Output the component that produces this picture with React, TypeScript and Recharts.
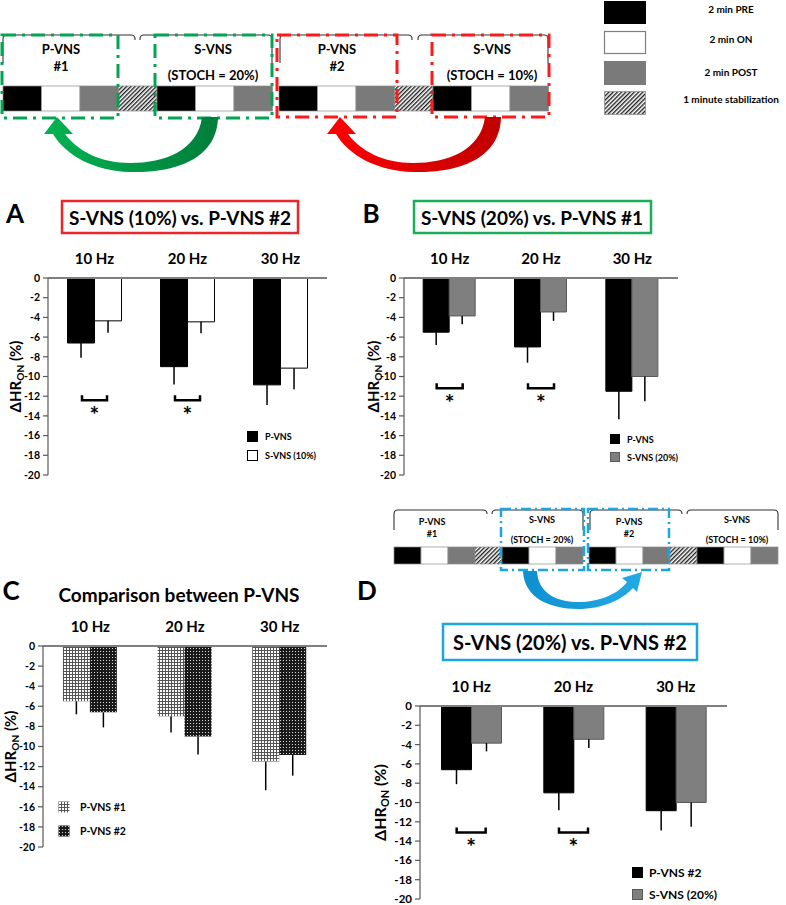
import React from 'react';
import { ComposedChart, Bar, Line, XAxis, YAxis, ErrorBar, Legend } from 'recharts';

const FONT = "Lato, 'Open Sans', sans-serif";

// ---------- data ----------
const freqs = ['10 Hz', '20 Hz', '30 Hz'];
const yTicks = [0, -2, -4, -6, -8, -10, -12, -14, -16, -18, -20];

const pvns1Mean = [-5.5, -7.0, -11.5];
const pvns1Err = [1.3, 1.6, 2.85];
const pvns2Mean = [-6.6, -9.0, -10.85];
const pvns2Err = [1.5, 1.8, 2.05];
const svns10Mean = [-4.35, -4.45, -9.15];
const svns10Err = [1.2, 1.15, 2.15];
const svns20Mean = [-3.85, -3.45, -10.0];
const svns20Err = [0.85, 0.9, 2.5];

const sigA = [-12.4, -12.4, null];
const sigB = [-11.2, -11.2, null];
const sigC = [null, null, null];
const sigD = [-13.1, -13.1, null];

function rows(a: number[], aErr: number[], b: number[], bErr: number[], sig: (number | null)[]) {
  return freqs.map((f, i) => ({
    freq: f,
    a: a[i],
    aErr: [aErr[i], 0],
    b: b[i],
    bErr: [bErr[i], 0],
    sig: sig[i],
  }));
}

const dataA = rows(pvns2Mean, pvns2Err, svns10Mean, svns10Err, sigA);
const dataB = rows(pvns1Mean, pvns1Err, svns20Mean, svns20Err, sigB);
const dataC = rows(pvns1Mean, pvns1Err, pvns2Mean, pvns2Err, sigC);
const dataD = rows(pvns2Mean, pvns2Err, svns20Mean, svns20Err, sigD);

type S = { name: string; fill: string; stroke: string };

// ---------- helpers ----------
const YLab = (props: any) => {
  const { viewBox, dx, fs } = props;
  if (!viewBox) return null;
  const x = viewBox.x + viewBox.width - dx;
  const y = viewBox.y + viewBox.height / 2;
  return (
    <text
      x={x}
      y={y}
      transform={`rotate(-90, ${x}, ${y})`}
      textAnchor="middle"
      dominantBaseline="central"
      fontFamily={FONT}
      fontWeight={700}
      fontSize={fs}
      fill="#000"
    >
      ΔHR
      <tspan dy={fs * 0.3} fontSize={fs * 0.68}>ON</tspan>
      <tspan dy={-fs * 0.3}> (%)</tspan>
    </text>
  );
};

const makeSig = (half: number) => (props: any) => {
  const { cx, cy, payload, index } = props;
  if (payload == null || payload.sig == null || cy == null || isNaN(cy)) return <g key={`s${index}`} />;
  return (
    <g key={`s${index}`}>
      <path d={`M${cx - half},${cy - 5} V${cy} H${cx + half} V${cy - 5}`} stroke="#000" strokeWidth={2.5} fill="none" />
      <text x={cx} y={cy + 23} textAnchor="middle" fontSize={23} fontWeight={700} fontFamily={FONT} fill="#000">*</text>
    </g>
  );
};

const legendContent = (items: S[], box: number, fs: number, step: number, textGap: number) => () => (
  <div style={{ position: 'relative' }}>
    {items.map((it, i) => (
      <div key={i} style={{ position: 'absolute', left: 0, top: i * step, display: 'flex', alignItems: 'center', height: box }}>
        <svg width={box} height={box} style={{ display: 'block' }}>
          <rect x={0.5} y={0.5} width={box - 1} height={box - 1} fill={it.fill} stroke={it.stroke} strokeWidth={1} />
        </svg>
        <span style={{ marginLeft: textGap, fontSize: fs, fontWeight: 700, fontFamily: FONT, color: '#000', whiteSpace: 'nowrap', lineHeight: 1 }}>
          {it.name}
        </span>
      </div>
    ))}
  </div>
);

function Panel(p: any) {
  const { left, top, width, height, margin, data, series, sigHalf, yLabDx, tickFs, catFs, yLabFs, leg } = p;
  return (
    <div style={{ position: 'absolute', left, top, width, height }}>
      <ComposedChart width={width} height={height} data={data} margin={margin} barGap={0} barCategoryGap="21%">
        <XAxis
          dataKey="freq"
          orientation="top"
          height={30}
          interval={0}
          tickLine={false}
          tickMargin={8}
          axisLine={{ stroke: '#7f7f7f', strokeWidth: 1.8 }}
          tick={{ fontSize: catFs, fontWeight: 700, fill: '#000', fontFamily: FONT }}
        />
        <YAxis
          type="number"
          domain={[-20, 0]}
          ticks={yTicks}
          interval={0}
          width={40}
          tickSize={5}
          tickMargin={3}
          axisLine={{ stroke: '#595959', strokeWidth: 1.2 }}
          tickLine={{ stroke: '#595959', strokeWidth: 1.2 }}
          tick={{ fontSize: tickFs, fontWeight: 700, fill: '#000', fontFamily: FONT }}
          label={<YLab dx={yLabDx} fs={yLabFs} />}
        />
        <Bar dataKey="a" name={series[0].name} fill={series[0].fill} stroke={series[0].stroke} strokeWidth={1} isAnimationActive={false}>
          <ErrorBar dataKey="aErr" width={0} stroke="#000" strokeWidth={1.5} direction="y" />
        </Bar>
        <Bar dataKey="b" name={series[1].name} fill={series[1].fill} stroke={series[1].stroke} strokeWidth={1} isAnimationActive={false}>
          <ErrorBar dataKey="bErr" width={0} stroke="#000" strokeWidth={1.5} direction="y" />
        </Bar>
        <Line
          dataKey="sig"
          stroke="none"
          legendType="none"
          dot={makeSig(sigHalf)}
          activeDot={false}
          isAnimationActive={false}
        />
        <Legend
          layout="vertical"
          align="center"
          verticalAlign="middle"
          content={legendContent(series, leg.box, leg.fs, leg.step, leg.gap)}
          wrapperStyle={{ position: 'absolute', left: leg.x, top: leg.y, width: 160, height: 60, margin: 0 }}
        />
      </ComposedChart>
    </div>
  );
}

// ---------- schematic pieces ----------
function Strip({ x0, y, w, h }: any) {
  const kinds = ['pre', 'on', 'post', 'stab', 'pre', 'on', 'post'];
  return (
    <g>
      {kinds.map((k, i) => (
        <rect
          key={i}
          x={x0 + i * w}
          y={y}
          width={w}
          height={h}
          fill={k === 'pre' ? '#000' : k === 'on' ? '#fff' : k === 'post' ? '#7a7a7a' : 'url(#hatch)'}
          stroke="#8c8c8c"
          strokeWidth={0.7}
        />
      ))}
    </g>
  );
}

function Brace({ x1, x2, y, dl, dr }: any) {
  return (
    <path
      d={`M${x1},${y + dl} L${x1},${y + 4} Q${x1},${y} ${x1 + 4},${y} L${x2 - 4},${y} Q${x2},${y} ${x2},${y + 4} L${x2},${y + dr}`}
      stroke="#333"
      strokeWidth={1.1}
      fill="none"
    />
  );
}

const T = (p: any) => (
  <text
    x={p.x}
    y={p.y}
    textAnchor={p.anchor || 'middle'}
    dominantBaseline="central"
    fontFamily={FONT}
    fontWeight={700}
    fontSize={p.fs}
    fill="#000"
  >
    {p.children}
  </text>
);

function Overlay() {
  const green = '#00a651';
  const red = '#ff1a1a';
  const blue = '#1ba6e0';
  const arrowPath =
    'M218,117 C217,163 168,173 130,172 C95,171 66,156 53,134 L44,134 L57,117 L73,134 L65,134 C78,151 100,163 130,163 C165,163 198,150 202,117 Z';
  return (
    <svg width={786} height={905} style={{ position: 'absolute', left: 0, top: 0 }}>
      <defs>
        <pattern id="hatch" width={3} height={3} patternUnits="userSpaceOnUse" patternTransform="rotate(45)">
          <rect width={3} height={3} fill="#fff" />
          <rect width={1.4} height={3} fill="#222" />
        </pattern>
        <pattern id="patLight" width={3} height={3} patternUnits="userSpaceOnUse">
          <rect width={3} height={3} fill="#fff" />
          <rect width={3} height={1} fill="#555" />
          <rect width={1} height={3} fill="#555" />
        </pattern>
        <pattern id="patDark" width={3} height={3} patternUnits="userSpaceOnUse">
          <rect width={3} height={3} fill="#1a1a1a" />
          <rect x={1} y={1} width={1} height={1} fill="#d8d8d8" />
        </pattern>
        <linearGradient id="gGreen" x1="0" x2="1" y1="0" y2="0">
          <stop offset="0" stopColor="#00b451" />
          <stop offset="1" stopColor="#007d3a" />
        </linearGradient>
        <linearGradient id="gRed" x1="0" x2="1" y1="0" y2="0">
          <stop offset="0" stopColor="#ff0000" />
          <stop offset="1" stopColor="#c00000" />
        </linearGradient>
        <linearGradient id="gBlue" x1="0" x2="1" y1="0" y2="0">
          <stop offset="0" stopColor="#0f8fd0" />
          <stop offset="1" stopColor="#22aae6" />
        </linearGradient>
      </defs>

      {/* top schematic */}
      <Brace x1={3} x2={135} y={35} dl={28} dr={5} />
      <Brace x1={140} x2={272} y={35} dl={5} dr={28} />
      <Brace x1={280} x2={412} y={35} dl={28} dr={5} />
      <Brace x1={418} x2={548} y={35} dl={5} dr={28} />
      <Strip x0={3} y={86} w={38.5} h={25} />
      <Strip x0={279} y={86} w={38.5} h={25} />
      <T x={61} y={49} fs={13}>P-VNS</T>
      <T x={61} y={66} fs={13}>#1</T>
      <T x={213} y={49} fs={13}>S-VNS</T>
      <T x={213} y={75} fs={13}>(STOCH = 20%)</T>
      <T x={337} y={49} fs={13}>P-VNS</T>
      <T x={337} y={66} fs={13}>#2</T>
      <T x={492} y={49} fs={13}>S-VNS</T>
      <T x={492} y={75} fs={13}>(STOCH = 10%)</T>
      <g fill="none" strokeWidth={3} strokeDasharray="14 6 3 6">
        <rect x={2} y={35} width={116} height={83} stroke={green} />
        <rect x={155} y={35} width={117} height={83} stroke={green} />
        <rect x={277} y={35} width={120} height={82} stroke={red} />
        <rect x={432} y={35} width={117} height={82} stroke={red} />
      </g>
      <path d={arrowPath} fill="url(#gGreen)" />
      <path d={arrowPath} fill="url(#gRed)" transform="translate(283,0)" />

      {/* top-right key */}
      <rect x={604} y={1} width={42} height={23} fill="#000" />
      <rect x={604.5} y={31.5} width={41} height={22} fill="#fff" stroke="#7f7f7f" strokeWidth={1.2} />
      <rect x={604} y={61} width={42} height={24} fill="#7a7a7a" />
      <rect x={604.5} y={91.5} width={41} height={23} fill="url(#hatch)" stroke="#9a9a9a" strokeWidth={1} />
      <T x={731} y={9} fs={10}>2 min PRE</T>
      <T x={731} y={39} fs={10}>2 min ON</T>
      <T x={731} y={72} fs={10}>2 min POST</T>
      <T x={731} y={99} fs={10}>1 minute stabilization</T>

      {/* panel letters and titles */}
      <T x={15} y={213} fs={26}>A</T>
      <T x={371} y={213} fs={26}>B</T>
      <T x={11} y={590} fs={26}>C</T>
      <T x={367} y={590} fs={26}>D</T>
      <rect x={62} y={201} width={236} height={32} fill="none" stroke="#e8262b" strokeWidth={2.5} />
      <T x={180} y={217} fs={19}>S-VNS (10%) vs. P-VNS #2</T>
      <rect x={414} y={201} width={237} height={32} fill="none" stroke="#1aae5a" strokeWidth={2.5} />
      <T x={532} y={217} fs={19}>S-VNS (20%) vs. P-VNS #1</T>
      <T x={179} y={594} fs={19}>Comparison between P-VNS</T>
      <rect x={443} y={624} width={254} height={36} fill="none" stroke={blue} strokeWidth={2.5} />
      <T x={570} y={642} fs={20}>S-VNS (20%) vs. P-VNS #2</T>

      {/* lower schematic */}
      <Brace x1={394} x2={487} y={510} dl={20} dr={4} />
      <Brace x1={492} x2={583} y={510} dl={4} dr={20} />
      <Brace x1={590} x2={682} y={510} dl={20} dr={4} />
      <Brace x1={687} x2={778} y={510} dl={4} dr={20} />
      <Strip x0={394} y={547} w={27} h={17} />
      <Strip x0={589} y={547} w={27} h={17} />
      <T x={432} y={521} fs={9}>P-VNS</T>
      <T x={432} y={533} fs={9}>#1</T>
      <T x={542} y={519} fs={9}>S-VNS</T>
      <T x={542} y={539} fs={9}>(STOCH = 20%)</T>
      <T x={629} y={521} fs={9}>P-VNS</T>
      <T x={629} y={533} fs={9}>#2</T>
      <T x={737} y={519} fs={9}>S-VNS</T>
      <T x={737} y={539} fs={9}>(STOCH = 10%)</T>
      <g fill="none" strokeWidth={2.5} strokeDasharray="10 4 2 4" stroke={blue}>
        <rect x={501} y={509} width={83} height={61} />
        <rect x={588} y={509} width={81} height={61} />
      </g>
      <path
        d="M523,571 C524,598 550,609 578,609 C602,609 622,600 633,588 L637,592 L642,572 L622,578 L627,582 C618,594 600,602 578,602 C555,602 538,592 537,571 Z"
        fill="url(#gBlue)"
      />
    </svg>
  );
}

const seriesA: S[] = [
  { name: 'P-VNS', fill: '#000', stroke: '#000' },
  { name: 'S-VNS (10%)', fill: '#fff', stroke: '#000' },
];
const seriesB: S[] = [
  { name: 'P-VNS', fill: '#000', stroke: '#000' },
  { name: 'S-VNS (20%)', fill: '#7f7f7f', stroke: '#5a5a5a' },
];
const seriesC: S[] = [
  { name: 'P-VNS #1', fill: 'url(#patLight)', stroke: 'none' },
  { name: 'P-VNS #2', fill: 'url(#patDark)', stroke: 'none' },
];
const seriesD: S[] = [
  { name: 'P-VNS #2', fill: '#000', stroke: '#000' },
  { name: 'S-VNS (20%)', fill: '#7f7f7f', stroke: '#5a5a5a' },
];

export default function App() {
  return (
    <div style={{ position: 'absolute', left: 0, top: 0, width: 786, height: 905, background: '#fff', overflow: 'hidden', fontFamily: FONT }}>
      <Overlay />
      <Panel
        left={0} top={240} width={340} height={245}
        margin={{ top: 8, right: 13, bottom: 10, left: 8 }}
        data={dataA} series={seriesA} sigHalf={12.5} yLabDx={33} tickFs={10.5} catFs={15} yLabFs={15}
        leg={{ x: 247, y: 191, box: 11, fs: 9, step: 19, gap: 7 }}
      />
      <Panel
        left={356} top={240} width={340} height={245}
        margin={{ top: 8, right: 18, bottom: 10, left: 8 }}
        data={dataB} series={seriesB} sigHalf={13} yLabDx={31} tickFs={10.5} catFs={15} yLabFs={15}
        leg={{ x: 254, y: 194, box: 10, fs: 9, step: 18, gap: 7 }}
      />
      <Panel
        left={0} top={608} width={340} height={249}
        margin={{ top: 8, right: 13, bottom: 10, left: 3 }}
        data={dataC} series={seriesC} sigHalf={13} yLabDx={33} tickFs={10.5} catFs={15} yLabFs={15}
        leg={{ x: 58, y: 193, box: 12, fs: 10.5, step: 24, gap: 10 }}
      />
      <Panel
        left={360} top={668} width={382} height={241}
        margin={{ top: 8, right: 15, bottom: 10, left: 20 }}
        data={dataD} series={seriesD} sigHalf={14.5} yLabDx={41} tickFs={11.5} catFs={15} yLabFs={16}
        leg={{ x: 272, y: 199, box: 11, fs: 12, step: 22, gap: 6 }}
      />
    </div>
  );
}
